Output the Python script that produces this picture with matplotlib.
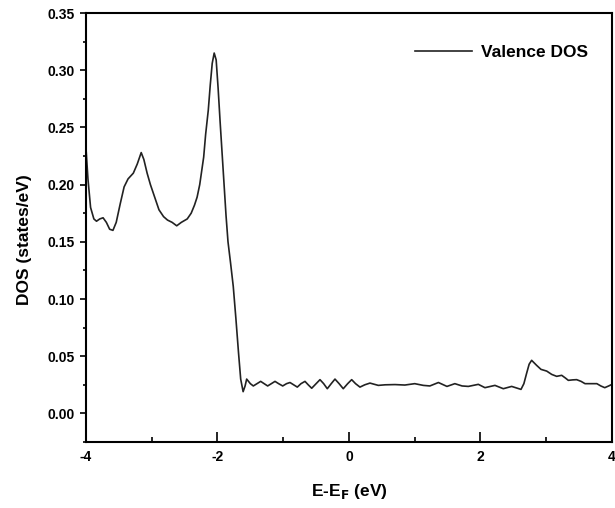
import numpy as np
import matplotlib
matplotlib.use("Agg")
import matplotlib.pyplot as plt
from matplotlib.ticker import MultipleLocator

plt.rcParams['font.family'] = ['Liberation Sans', 'DejaVu Sans']
plt.rcParams['font.weight'] = 'bold'
plt.rcParams['axes.unicode_minus'] = False
plt.rcParams['mathtext.default'] = 'bf'

# energy (eV) relative to Fermi level
energy = [-4.00, -3.97, -3.93, -3.88, -3.84, -3.79, -3.74, -3.69, -3.64, -3.59,
          -3.54, -3.48, -3.42, -3.36, -3.28, -3.22, -3.16, -3.12, -3.07, -3.02,
          -2.95, -2.89, -2.82, -2.76, -2.69, -2.62, -2.55, -2.46, -2.40, -2.35,
          -2.31, -2.27, -2.24, -2.21, -2.18, -2.14, -2.11, -2.08, -2.05, -2.02,
          -1.99, -1.96, -1.93, -1.90, -1.87, -1.84, -1.80, -1.76, -1.72, -1.68, -1.647,
          -1.61, -1.58, -1.556, -1.50, -1.455, -1.40, -1.343, -1.29, -1.237, -1.18,
          -1.125, -1.07, -1.008, -0.95, -0.897, -0.84, -0.786, -0.73, -0.669, -0.62,
          -0.567, -0.50, -0.441, -0.385, -0.330, -0.27, -0.213, -0.15, -0.087, -0.02,
          0.041, 0.10, 0.167, 0.24, 0.319, 0.446, 0.55, 0.70, 0.85, 1.00,
          1.13, 1.23, 1.36, 1.49, 1.61, 1.72, 1.815, 1.967, 2.068, 2.22,
          2.347, 2.474, 2.55, 2.616, 2.66, 2.70, 2.74, 2.778, 2.82, 2.854,
          2.92, 3.007, 3.083, 3.159, 3.235, 3.29, 3.336, 3.40, 3.463, 3.53,
          3.59, 3.69, 3.77, 3.83, 3.89, 3.95, 4.00]

dos = [0.232, 0.205, 0.180, 0.170, 0.168, 0.170, 0.171, 0.167, 0.161, 0.160,
       0.167, 0.183, 0.198, 0.205, 0.210, 0.218, 0.228, 0.222, 0.210, 0.200,
       0.188, 0.178, 0.172, 0.169, 0.167, 0.164, 0.167, 0.170, 0.175, 0.182,
       0.189, 0.200, 0.212, 0.224, 0.244, 0.265, 0.287, 0.306, 0.315, 0.309,
       0.284, 0.255, 0.228, 0.200, 0.173, 0.150, 0.131, 0.111, 0.083, 0.053, 0.030,
       0.019, 0.024, 0.030, 0.026, 0.024, 0.026, 0.028, 0.026, 0.024, 0.026,
       0.028, 0.026, 0.024, 0.026, 0.027, 0.025, 0.023, 0.026, 0.028, 0.025,
       0.022, 0.026, 0.0295, 0.026, 0.0216, 0.026, 0.030, 0.026, 0.0216, 0.026,
       0.0295, 0.026, 0.023, 0.025, 0.0265, 0.0245, 0.025, 0.0252, 0.0248, 0.026,
       0.0245, 0.024, 0.027, 0.0236, 0.026, 0.024, 0.0236, 0.0254, 0.0225, 0.0245,
       0.0216, 0.0236, 0.0222, 0.021, 0.026, 0.0347, 0.043, 0.0464, 0.044, 0.042,
       0.0385, 0.037, 0.0341, 0.0324, 0.0333, 0.031, 0.0289, 0.0293, 0.0295, 0.028,
       0.026, 0.026, 0.026, 0.024, 0.0225, 0.024, 0.0254]

fig = plt.figure(figsize=(6.15, 5.08), dpi=100)
ax = fig.add_axes([0.1398, 0.1299, 0.8553, 0.8445])

ax.plot(energy, dos, color="#222222", lw=1.2, label="Valence DOS")

ax.set_xlim(-4, 4)
ax.set_ylim(-0.025, 0.35)
ax.xaxis.set_major_locator(MultipleLocator(2))
ax.xaxis.set_minor_locator(MultipleLocator(1))
ax.yaxis.set_major_locator(MultipleLocator(0.05))
ax.yaxis.set_minor_locator(MultipleLocator(0.025))
ax.set_yticks(np.arange(0, 0.351, 0.05))
ax.set_yticklabels(["%.2f" % v for v in np.arange(0, 0.351, 0.05)])

ax.tick_params(axis="x", which="major", direction="in", length=7, width=1.2, labelsize=10, pad=6)
ax.tick_params(axis="x", which="minor", direction="in", length=3.5, width=1.2)
ax.tick_params(axis="y", which="major", direction="out", length=4, width=1.2, labelsize=10, pad=4)
ax.tick_params(axis="y", which="minor", direction="out", length=2.5, width=1.2)
for s in ax.spines.values():
    s.set_linewidth(1.5)

ax.set_xlabel("E-E$_F$ (eV)", fontsize=12.5, fontweight="bold", labelpad=13)
ax.set_ylabel("DOS (states/eV)", fontsize=12.5, fontweight="bold")
ax.yaxis.set_label_coords(-0.103, 0.471)

ax.legend(loc="center left", bbox_to_anchor=(0.625, 0.909), frameon=False,
          borderpad=0, borderaxespad=0, handlelength=3.3, handletextpad=0.5,
          prop={"weight": "bold", "size": 12.5})

fig.savefig("out.png", dpi=100)
